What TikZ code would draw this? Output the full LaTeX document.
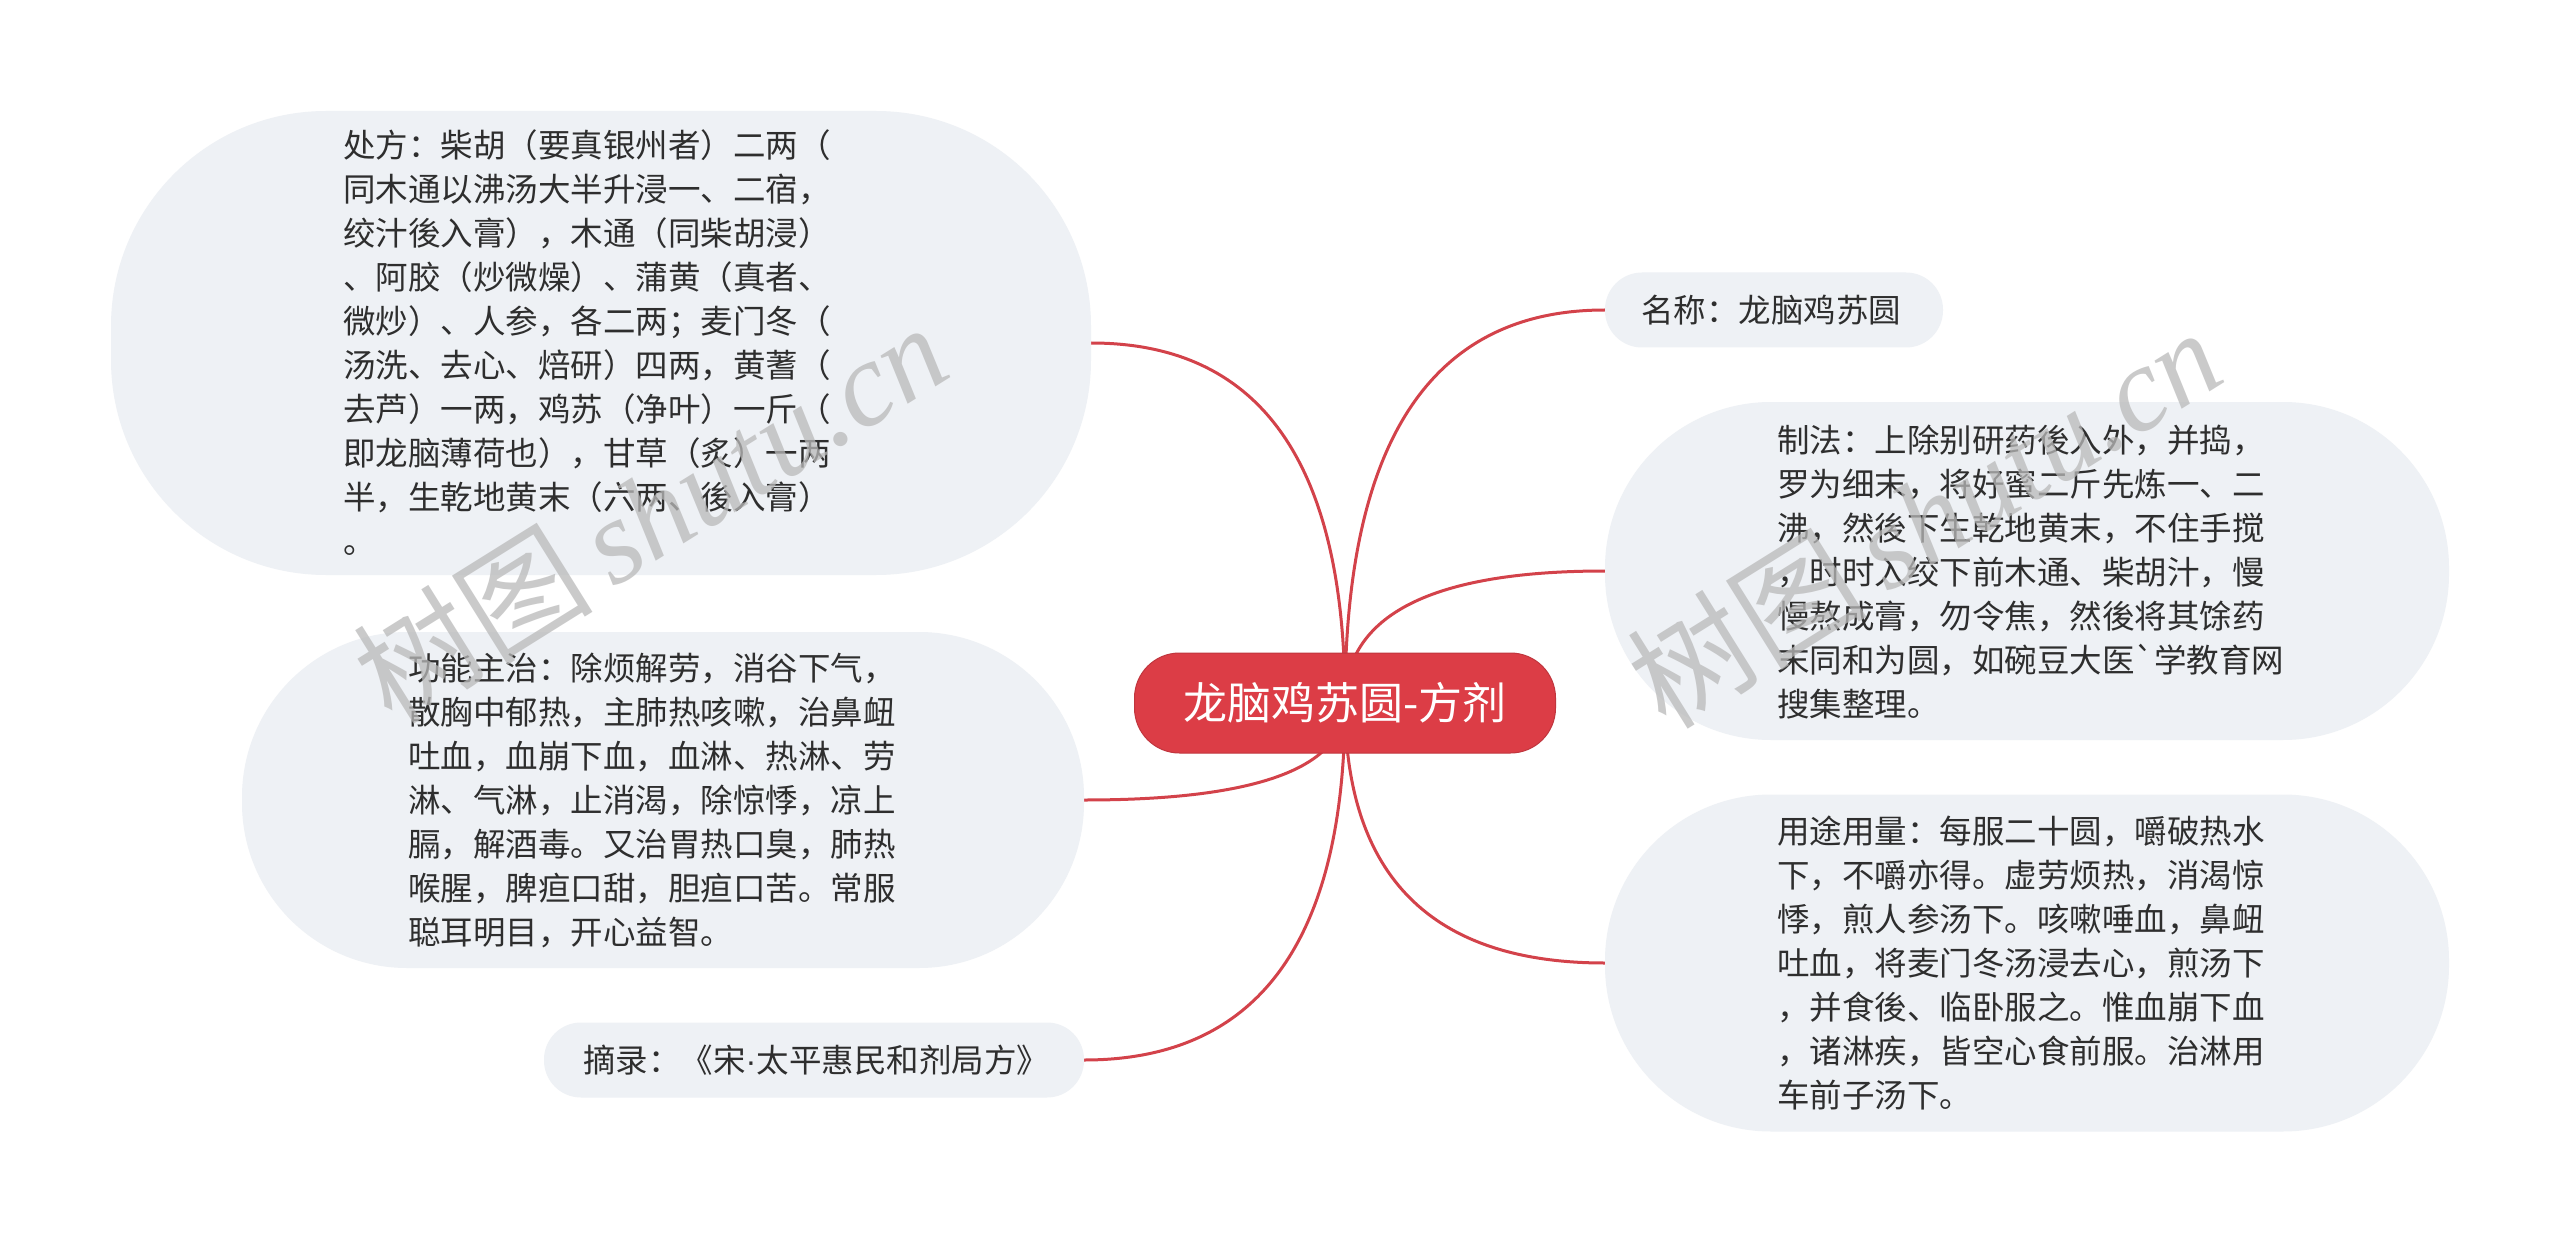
\documentclass[tikz,border=0pt]{standalone}
\usepackage{fontspec}
\newfontfamily\cjk{Noto Sans CJK SC}[Ligatures=TeXOff]
\newfontfamily\latinsans{Liberation Sans}
\newfontfamily\wmser{Liberation Serif}
\usetikzlibrary{calc}
\pgfdeclarelayer{back}
\pgfdeclarelayer{links}
\pgfsetlayers{back,links,main}
\definecolor{boxfill}{HTML}{EEF1F5}
\definecolor{linkred}{HTML}{D3424A}
\definecolor{rootfill}{HTML}{DC3D46}
\definecolor{rootdraw}{HTML}{C0363E}
\definecolor{txt}{HTML}{2E2E2E}
\definecolor{wm}{HTML}{B9B9B9}
\newcommand\linkto[1]{\draw[link] (c.center) .. controls ($(c.center)!0.667!(c.center|-#1)$) and ($(#1)!0.667!(c.center|-#1)$) .. (#1);}
\begin{document}
\begin{tikzpicture}[x=1pt,y=-1pt,
  box/.style={fill=boxfill, draw=none, inner sep=0pt},
  body/.style={anchor=west, align=left, inner sep=0pt, text=txt, font=\cjk\fontsize{32.5}{44}\selectfont},
  link/.style={draw=linkred, line width=3pt},
  wmark/.style={text=wm, opacity=0.75, rotate=32, inner sep=0pt, font=\fontsize{120}{130}\selectfont}]
\useasboundingbox (0,0) rectangle (2560,1241);
\begin{pgfonlayer}{back}
\fill[white] (0,0) rectangle (2560,1241);
\end{pgfonlayer}
% boxes
\node[box, minimum width=980pt, minimum height=464pt, rounded corners=215pt] (b1) at (601,343) {};
\node[box, minimum width=842pt, minimum height=336pt, rounded corners=165pt] (b2) at (663,800) {};
\node[box, minimum width=540pt, minimum height=75pt, rounded corners=37pt] (b3) at (814,1060) {};
\node[box, minimum width=338pt, minimum height=75pt, rounded corners=37pt] (b4) at (1774,310) {};
\node[box, minimum width=844pt, minimum height=338pt, rounded corners=166pt] (b5) at (2027,571) {};
\node[box, minimum width=844pt, minimum height=337pt, rounded corners=166pt] (b6) at (2027,963) {};
% root
\node[fill=rootfill, draw=rootdraw, line width=1pt, minimum width=421pt, minimum height=100pt, rounded corners=45pt, text=white, inner sep=0pt, font=\cjk\fontsize{44}{50}\selectfont] (c) at (1345,703) {龙脑鸡苏圆-方剂};
% links
\begin{pgfonlayer}{links}
\linkto{b1.east}
\linkto{b2.east}
\linkto{b3.east}
\linkto{b4.west}
\linkto{b5.west}
\linkto{b6.west}
\end{pgfonlayer}
% texts
\node[body] (t1) at (343,343) {处方：柴胡（要真银州者）二两（\\同木通以沸汤大半升浸一、二宿，\\绞汁後入膏），木通（同柴胡浸）\\、阿胶（炒微燥）、蒲黄（真者、\\微炒）、人参，各二两；麦门冬（\\汤洗、去心、焙研）四两，黄蓍（\\去芦）一两，鸡苏（净叶）一斤（\\即龙脑薄荷也），甘草（炙）一两\\半，生乾地黄末（六两、後入膏）\\。};
\node[body] (t2) at (408,800) {功能主治：除烦解劳，消谷下气，\\散胸中郁热，主肺热咳嗽，治鼻衄\\吐血，血崩下血，血淋、热淋、劳\\淋、气淋，止消渴，除惊悸，凉上\\膈，解酒毒。又治胃热口臭，肺热\\喉腥，脾疸口甜，胆疸口苦。常服\\聪耳明目，开心益智。};
\node[body] (t3) at (583,1060) {摘录：《宋{\latinsans ·}太平惠民和剂局方》};
\node[body] (t4) at (1641,310) {名称：龙脑鸡苏圆};
\node[body] (t5) at (1777,572) {制法：上除别研药後入外，并捣，\\罗为细末，将好蜜二斤先炼一、二\\沸，然後下生乾地黄末，不住手搅\\，时时入绞下前木通、柴胡汁，慢\\慢熬成膏，勿令焦，然後将其馀药\\末同和为圆，如碗豆大医`学教育网\\搜集整理。};
\node[body] (t6) at (1777,963) {用途用量：每服二十圆，嚼破热水\\下，不嚼亦得。虚劳烦热，消渴惊\\悸，煎人参汤下。咳嗽唾血，鼻衄\\吐血，将麦门冬汤浸去心，煎汤下\\，并食後、临卧服之。惟血崩下血\\，诸淋疾，皆空心食前服。治淋用\\车前子汤下。};
% watermarks
\node[wmark] (w1) at (650,512) {{\cjk 树图}\,{\wmser\itshape shutu.cn}};
\node[wmark] (w2) at (1924,517) {{\cjk 树图}\,{\wmser\itshape shutu.cn}};
\end{tikzpicture}
\end{document}
